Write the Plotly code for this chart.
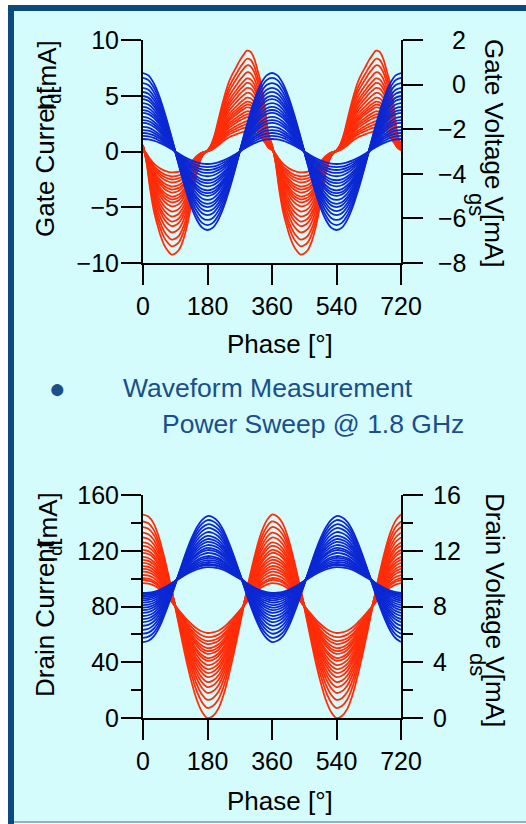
import numpy as np
import plotly.graph_objects as go

W, H = 526, 824

# ---------------- data ----------------
# phase grid of the gate-current record (one period, 10 deg steps)
IG_PHASE_STEP = 10
# gate current of the highest drive level over one period [mA]
IG_WAVE = [0.6, -1.0, -3.4, -5.3, -6.6, -7.7, -8.5, -9.0, -9.3, -9.2, -8.9, -8.2,
           -7.1, -5.6, -3.7, -2.0, -0.8, -0.2, 0.1, 0.6, 1.5, 2.8, 4.1, 5.3,
           6.3, 7.0, 7.6, 8.2, 8.7, 9.1, 9.0, 8.4, 7.3, 6.1, 4.0, 1.6]
# trough depth of the gate current for each drive level [mA]
IG_TROUGH = [9.24, 8.50, 7.90, 7.26, 6.70, 6.28, 5.83, 5.38, 4.93, 4.57,
             4.30, 4.04, 3.68, 3.41, 3.14, 2.78, 2.51, 2.24, 1.88]

# phase grid of the voltage / drain-current records (one period, 15 deg steps)
FUND_PHASE_STEP = 15
# normalised fundamental of the gate voltage (peak at 0 deg)
VG_SHAPE = [1.00, 0.97, 0.87, 0.71, 0.50, 0.26, 0.00, -0.26, -0.50, -0.71, -0.87, -0.97,
            -1.00, -0.97, -0.87, -0.71, -0.50, -0.26, 0.00, 0.26, 0.50, 0.71, 0.87, 0.97]
# gate voltage at 0 deg and at 180 deg for each drive level [V]
VG_HIGH = [0.52, 0.30, 0.07, -0.15, -0.33, -0.51, -0.65, -0.83, -1.00, -1.14,
           -1.27, -1.45, -1.59, -1.72, -1.90, -2.04, -2.17, -2.30, -2.44]
VG_LOW = [-6.52, -6.30, -6.07, -5.85, -5.67, -5.49, -5.35, -5.17, -4.99, -4.87,
          -4.74, -4.56, -4.42, -4.29, -4.11, -3.96, -3.83, -3.70, -3.56]

# normalised fundamental of the drain side (current peak near 5 deg)
DR_SHAPE = [1.00, 0.98, 0.91, 0.77, 0.57, 0.34, 0.09, -0.17, -0.42, -0.64, -0.82, -0.94,
            -1.00, -0.98, -0.91, -0.77, -0.57, -0.34, -0.09, 0.17, 0.42, 0.64, 0.82, 0.94]
# drain current maximum / minimum for each drive level [mA]
ID_HIGH = [146.0, 141.0, 137.0, 133.0, 129.5, 126.0, 123.5, 120.6, 118.5, 115.6,
           113.5, 111.3, 109.0, 107.0, 105.0, 102.6, 100.4, 99.0, 96.8]
ID_LOW = [0.0, 7.2, 13.0, 18.0, 22.2, 25.8, 29.4, 32.3, 35.0, 38.0,
          41.0, 43.0, 46.0, 48.0, 50.2, 53.0, 55.2, 58.0, 61.0]
# drain voltage maximum / minimum for each drive level [V]
VD_HIGH = [14.49, 14.20, 13.90, 13.63, 13.34, 13.06, 12.84, 12.63, 12.41, 12.20,
           12.05, 11.84, 11.62, 11.48, 11.33, 11.19, 11.05, 10.97, 10.83]
VD_LOW = [5.45, 5.75, 6.05, 6.33, 6.62, 6.88, 7.10, 7.32, 7.54, 7.74,
          7.92, 8.10, 8.28, 8.44, 8.58, 8.70, 8.81, 8.90, 8.97]

PHASE_TICKS = [0, 180, 360, 540, 720]
IG_TICKS = [-10, -5, 0, 5, 10]
VG_TICKS = [-8, -6, -4, -2, 0, 2]
VG_TICKTEXT = ["\u22128", "\u22126", "\u22124", "\u22122", "\u20070", "\u20072"]
ID_TICKS = [0, 40, 80, 120, 160]
VD_TICKS = [0, 4, 8, 12, 16]

# ---------------- styles ----------------
RED = "#ff2d08"
BLUE = "#0b28d4"
BG = "#d4fcfc"
FRAME = "#0b4a7e"
NOTE = "#1a4f8b"
FONT = "Liberation Sans, Arial, sans-serif"


def two_periods(values):
    v = np.asarray(values, dtype=float)
    return np.concatenate([v, v, v[:1]])


def phase_axis(step, n):
    return np.arange(2 * n + 1) * step


def px(x):
    return x / W


def py(y):
    return 1 - y / H


fig = go.Figure()

# gate current (left axis, top panel)
ig_wave = two_periods(IG_WAVE)
ig_phase = phase_axis(IG_PHASE_STEP, len(IG_WAVE))
ig_ref = abs(min(IG_WAVE))
for depth in IG_TROUGH:
    fig.add_trace(go.Scatter(x=ig_phase, y=ig_wave * depth / ig_ref, mode="lines",
                             line=dict(color=RED, width=1.8, shape="spline"),
                             xaxis="x", yaxis="y", hoverinfo="skip"))

# gate voltage (right axis, top panel)
vg_shape = two_periods(VG_SHAPE)
f_phase = phase_axis(FUND_PHASE_STEP, len(VG_SHAPE))
for hi, lo in zip(VG_HIGH, VG_LOW):
    mid, half = (hi + lo) / 2, (hi - lo) / 2
    fig.add_trace(go.Scatter(x=f_phase, y=mid + half * vg_shape, mode="lines",
                             line=dict(color=BLUE, width=1.8, shape="spline"),
                             xaxis="x", yaxis="y2", hoverinfo="skip"))

# drain current (left axis, bottom panel)
dr_shape = two_periods(DR_SHAPE)
for hi, lo in zip(ID_HIGH, ID_LOW):
    mid, half = (hi + lo) / 2, (hi - lo) / 2
    fig.add_trace(go.Scatter(x=f_phase, y=mid + half * dr_shape, mode="lines",
                             line=dict(color=RED, width=1.8, shape="spline"),
                             xaxis="x2", yaxis="y3", hoverinfo="skip"))

# drain voltage (right axis, bottom panel)
for hi, lo in zip(VD_HIGH, VD_LOW):
    mid, half = (hi + lo) / 2, (hi - lo) / 2
    fig.add_trace(go.Scatter(x=f_phase, y=mid - half * dr_shape, mode="lines",
                             line=dict(color=BLUE, width=1.8, shape="spline"),
                             xaxis="x2", yaxis="y4", hoverinfo="skip"))

X_DOM = [px(143), px(401)]
TOP_DOM = [py(263), py(40)]
BOT_DOM = [py(718), py(495)]

axis_common = dict(showline=True, linecolor="black", linewidth=2, ticks="outside",
                   ticklen=20, tickwidth=2, tickcolor="black", showgrid=False,
                   zeroline=False, automargin=False,
                   tickfont=dict(family=FONT, size=25, color="black"),
                   fixedrange=True)

fig.update_layout(
    width=W, height=H, autosize=False,
    margin=dict(l=0, r=0, t=0, b=0, autoexpand=False),
    paper_bgcolor="white", plot_bgcolor="rgba(0,0,0,0)",
    showlegend=False,
    font=dict(family=FONT, color="black"),
    xaxis=dict(domain=X_DOM, anchor="y", range=[0, 720], tickvals=PHASE_TICKS, **axis_common),
    yaxis=dict(domain=TOP_DOM, anchor="x", range=[-10, 10], tickvals=IG_TICKS,
               ticklabelstandoff=-3, **axis_common),
    yaxis2=dict(overlaying="y", side="right", anchor="x", range=[-8, 2],
                tickvals=VG_TICKS, ticktext=VG_TICKTEXT, ticklabelstandoff=10, **axis_common),
    xaxis2=dict(domain=X_DOM, anchor="y3", range=[0, 720], tickvals=PHASE_TICKS, **axis_common),
    yaxis3=dict(domain=BOT_DOM, anchor="x2", range=[0, 160], tickvals=ID_TICKS,
                ticklabelstandoff=-3,
                minor=dict(dtick=20, ticklen=10, tickwidth=2, tickcolor="black", ticks="outside"),
                **axis_common),
    yaxis4=dict(overlaying="y3", side="right", anchor="x2", range=[0, 16], tickvals=VD_TICKS,
                ticklabelstandoff=5,
                minor=dict(dtick=2, ticklen=10, tickwidth=2, tickcolor="black", ticks="outside"),
                **axis_common),
)

# slide background and frame
fig.add_shape(type="rect", xref="paper", yref="paper", x0=px(8), x1=1, y0=py(822), y1=py(5),
              fillcolor=BG, line=dict(width=0), layer="below")
fig.add_shape(type="rect", xref="paper", yref="paper", x0=px(8), x1=px(14), y0=py(824), y1=py(5),
              fillcolor=FRAME, line=dict(width=0), layer="below")
fig.add_shape(type="rect", xref="paper", yref="paper", x0=px(8), x1=1, y0=py(11), y1=py(5),
              fillcolor=FRAME, line=dict(width=0), layer="below")
fig.add_shape(type="line", xref="paper", yref="paper", x0=px(14), x1=1, y0=py(822), y1=py(822),
              line=dict(color="#8fb4c9", width=2), layer="below")


def note(text, x, y, size=26, angle=0, color="black", xanchor="center", yanchor="middle"):
    fig.add_annotation(text=text, x=px(x), y=py(y), xref="paper", yref="paper",
                       showarrow=False, textangle=angle, xanchor=xanchor, yanchor=yanchor,
                       font=dict(family=FONT, size=size, color=color))


# axis titles
note("Gate Current", 45, 162, angle=-90)
note("I<sub>d</sub>[mA]", 49, 76, angle=-90)
note("Gate Voltage V[mA]", 494, 153, angle=90)
note("gs", 477, 204, size=22, angle=90)
note("Drain Current", 45, 619, angle=-90)
note("I<sub>d</sub>[mA]", 49, 528, angle=-90)
note("Drain Voltage V[mA]", 495, 610, angle=90)
note("ds", 478, 664, size=22, angle=90)
note("Phase [°]", 280, 344)
note("Phase [°]", 280, 801)

# measurement note
note("\u25CF", 57, 389, size=28, color=NOTE)
note("Waveform Measurement", 121, 388, size=26.5, color=NOTE, xanchor="left")
note("Power Sweep @ 1.8 GHz", 160, 424, size=26.5, color=NOTE, xanchor="left")

fig.write_html(
    "out.html",
    post_script="document.body.style.margin='0';document.body.style.overflow='hidden';",
)
